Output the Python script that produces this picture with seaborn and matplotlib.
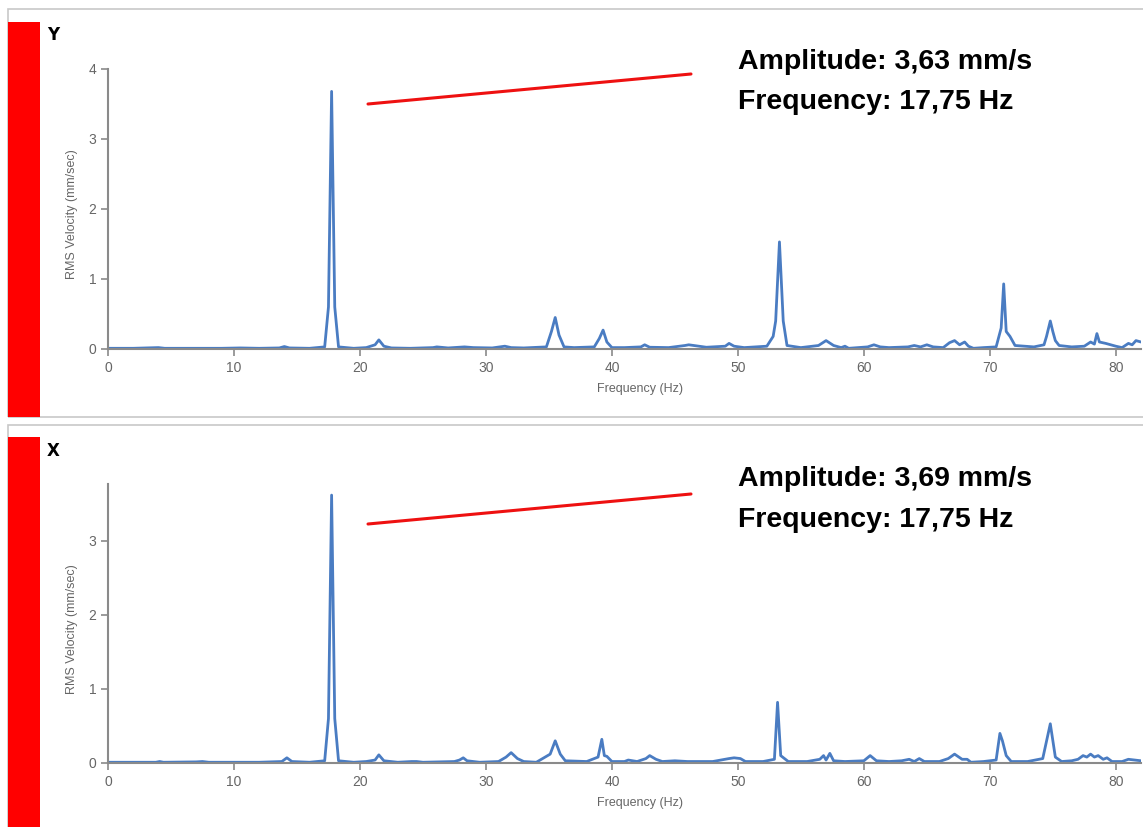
import pandas as pd
import matplotlib.pyplot as plt
from matplotlib.patches import Rectangle
import seaborn as sns

sns.set_style('white')
plt.rcParams['font.family'] = ['Liberation Sans', 'DejaVu Sans']

# =============================================================================
# Data (frequency in Hz, RMS velocity in mm/sec)
# =============================================================================

freq_y = [0, 2, 4, 4.5, 6, 9, 10.5, 12, 13.6, 14.0, 14.4, 16, 17.2, 17.5, 17.75,
          18.0, 18.3, 19.5, 20.5, 21.2, 21.5, 21.9, 22.5, 24, 25.8, 26.1, 27,
          28.3, 29, 30.5, 31.5, 32, 33, 34.8, 35.2, 35.5, 35.8, 36.2, 37, 38.6,
          39.0, 39.3, 39.6, 40, 41, 42.3, 42.6, 43, 44.5, 45.8, 46.1, 47.5, 49.0,
          49.3, 49.7, 50.5, 52.3, 52.8, 53.0, 53.3, 53.6, 53.9, 55, 56.4, 57.0,
          57.6, 58.2, 58.5, 58.8, 60.3, 60.8, 61.3, 62, 63.5, 64.0, 64.5, 65.0,
          65.5, 66.3, 66.8, 67.2, 67.6, 68.0, 68.3, 68.7, 69.5, 70.5, 70.9, 71.1,
          71.3, 71.6, 72, 73.5, 74.3, 74.5, 74.8, 75.0, 75.2, 75.5, 76.5, 77.5,
          78.0, 78.3, 78.5, 78.7, 79.2, 80, 80.5, 81, 81.3, 81.6, 82]
amp_y = [0.01, 0.01, 0.02, 0.01, 0.01, 0.01, 0.015, 0.01, 0.015, 0.035, 0.015,
         0.01, 0.03, 0.6, 3.68, 0.6, 0.03, 0.01, 0.02, 0.06, 0.13, 0.04, 0.015,
         0.01, 0.02, 0.03, 0.015, 0.03, 0.02, 0.015, 0.04, 0.02, 0.015, 0.03,
         0.25, 0.45, 0.2, 0.03, 0.02, 0.03, 0.15, 0.27, 0.1, 0.02, 0.02, 0.03,
         0.06, 0.025, 0.02, 0.05, 0.06, 0.025, 0.04, 0.08, 0.04, 0.02, 0.04,
         0.18, 0.4, 1.53, 0.4, 0.05, 0.02, 0.05, 0.12, 0.05, 0.02, 0.04, 0.01,
         0.03, 0.06, 0.03, 0.02, 0.03, 0.05, 0.03, 0.06, 0.03, 0.02, 0.09, 0.12,
         0.06, 0.1, 0.04, 0.01, 0.02, 0.03, 0.3, 0.93, 0.25, 0.18, 0.05, 0.03,
         0.06, 0.18, 0.4, 0.25, 0.12, 0.05, 0.03, 0.04, 0.1, 0.07, 0.22, 0.1,
         0.08, 0.04, 0.02, 0.08, 0.06, 0.12, 0.1]

freq_x = [0, 2, 3.8, 4.1, 4.4, 7, 7.5, 8, 10, 12, 13.8, 14.2, 14.6, 16, 17.2,
          17.5, 17.75, 18.0, 18.3, 19.5, 20.5, 21.2, 21.5, 21.9, 23, 24.1, 24.5,
          25, 27.5, 27.9, 28.2, 28.5, 29.5, 31, 31.6, 32.0, 32.5, 33, 34, 35.1,
          35.5, 35.9, 36.3, 38, 38.9, 39.2, 39.4, 39.6, 40, 41, 41.3, 42, 42.7,
          43.0, 43.5, 44, 45, 46, 48, 49.3, 49.7, 50.2, 50.6, 52, 52.9, 53.15,
          53.4, 54, 55.5, 56.5, 56.8, 57.0, 57.3, 57.6, 58.5, 60, 60.5, 61, 62,
          63, 63.6, 64, 64.4, 64.8, 66, 66.7, 67.2, 67.8, 68.2, 68.5, 69.5, 70.5,
          70.8, 71.0, 71.3, 71.7, 73, 74.2, 74.8, 75.2, 75.7, 76.5, 77.0, 77.4,
          77.7, 78.0, 78.3, 78.6, 79.0, 79.3, 79.7, 80.5, 81, 81.5, 82]
amp_x = [0.01, 0.01, 0.01, 0.02, 0.01, 0.015, 0.02, 0.01, 0.01, 0.01, 0.02,
         0.07, 0.02, 0.01, 0.03, 0.6, 3.62, 0.6, 0.03, 0.01, 0.02, 0.04, 0.11,
         0.03, 0.01, 0.02, 0.02, 0.01, 0.02, 0.04, 0.07, 0.03, 0.01, 0.02, 0.08,
         0.14, 0.06, 0.02, 0.01, 0.12, 0.3, 0.12, 0.03, 0.02, 0.08, 0.32, 0.1,
         0.09, 0.02, 0.02, 0.04, 0.02, 0.06, 0.1, 0.05, 0.02, 0.03, 0.02, 0.02,
         0.06, 0.07, 0.06, 0.02, 0.02, 0.05, 0.82, 0.1, 0.02, 0.02, 0.05, 0.1,
         0.04, 0.13, 0.03, 0.02, 0.03, 0.1, 0.03, 0.02, 0.03, 0.05, 0.02, 0.06,
         0.02, 0.02, 0.06, 0.12, 0.05, 0.05, 0.01, 0.02, 0.04, 0.4, 0.3, 0.1,
         0.02, 0.02, 0.06, 0.53, 0.08, 0.02, 0.03, 0.05, 0.1, 0.08, 0.12, 0.08,
         0.1, 0.05, 0.07, 0.02, 0.02, 0.05, 0.04, 0.03]

panels = [
    {'label': 'Y', 'freq': freq_y, 'amp': amp_y, 'ymax': 4.0, 'yticks': [0, 1, 2, 3, 4],
     'text': ['Amplitude: 3,63 mm/s', 'Frequency: 17,75 Hz']},
    {'label': 'X', 'freq': freq_x, 'amp': amp_x, 'ymax': 3.77, 'yticks': [0, 1, 2, 3],
     'text': ['Amplitude: 3,69 mm/s', 'Frequency: 17,75 Hz']},
]

W, H = 1143, 827
fig = plt.figure(figsize=(W / 100, H / 100), dpi=100)


def fx(px):
    return px / W


def fy(py):
    return 1 - py / H


# layout per panel in pixel coords: box top/bottom, red bar top, axes top/bottom,
# red marker line (y start, y end), text lines
layout = [
    {'box': (9, 417), 'bar': 22, 'ax': (69, 349), 'lab': 35,
     'line': (104, 74), 'txt': (62, 102)},
    {'box': (425, 840), 'bar': 437, 'ax': (484, 763), 'lab': 451,
     'line': (524, 494), 'txt': (479, 520)},
]

grey = '#8a8a8a'
for p, lo in zip(panels, layout):
    # panel frame and red side bar
    b0, b1 = lo['box']
    fig.patches.append(Rectangle((fx(8), fy(b1)), fx(1200 - 8), fy(b0) - fy(b1),
                                 transform=fig.transFigure, fill=False,
                                 edgecolor='#c8c8c8', lw=1.2, zorder=0))
    fig.patches.append(Rectangle((fx(8), fy(min(b1, H + 5))), fx(32),
                                 fy(lo['bar']) - fy(min(b1, H + 5)),
                                 transform=fig.transFigure, facecolor='#ff0000',
                                 edgecolor='none', zorder=1))
    fig.text(fx(53), fy(lo['lab']), p['label'], fontsize=12, fontweight='heavy',
             family='DejaVu Sans', ha='center', va='center', color='black')

    a0, a1 = lo['ax']
    ax = fig.add_axes([fx(108), fy(a1), fx(1033), fy(a0) - fy(a1)])
    df = pd.DataFrame({'Frequency': p['freq'], 'Velocity': p['amp']})
    sns.lineplot(data=df, x='Frequency', y='Velocity', sort=False, ax=ax,
                 color='#4a7cc2', lw=2)
    ax.set_xlim(0, 82)
    ax.set_ylim(0, p['ymax'])
    ax.set_xticks([0, 10, 20, 30, 40, 50, 60, 70, 80])
    ax.set_yticks(p['yticks'])
    for s in ['top', 'right']:
        ax.spines[s].set_visible(False)
    for s in ['left', 'bottom']:
        ax.spines[s].set_color(grey)
        ax.spines[s].set_linewidth(1.5)
    ax.tick_params(axis='both', colors=grey, labelcolor='#666666', labelsize=10,
                   length=5, width=1.2, direction='out', bottom=True, left=True)
    ax.set_xlabel('Frequency (Hz)', color='#666666', fontsize=9, va='center')
    ax.xaxis.set_label_coords(0.515, -0.143)
    ax.set_ylabel('RMS Velocity (mm/sec)', color='#666666', fontsize=9, va='center')
    ax.yaxis.set_label_coords(-0.035, 0.48)

    # red marker line and peak readout
    l0, l1 = lo['line']
    fig.add_artist(plt.Line2D([fx(368), fx(691)], [fy(l0), fy(l1)],
                              color='#ee1111', lw=2.2))
    for t, ty in zip(p['text'], lo['txt']):
        fig.text(fx(738), fy(ty), t, fontsize=20.5, fontweight='bold',
                 ha='left', va='center', color='black')

plt.savefig('out.png', dpi=100)
